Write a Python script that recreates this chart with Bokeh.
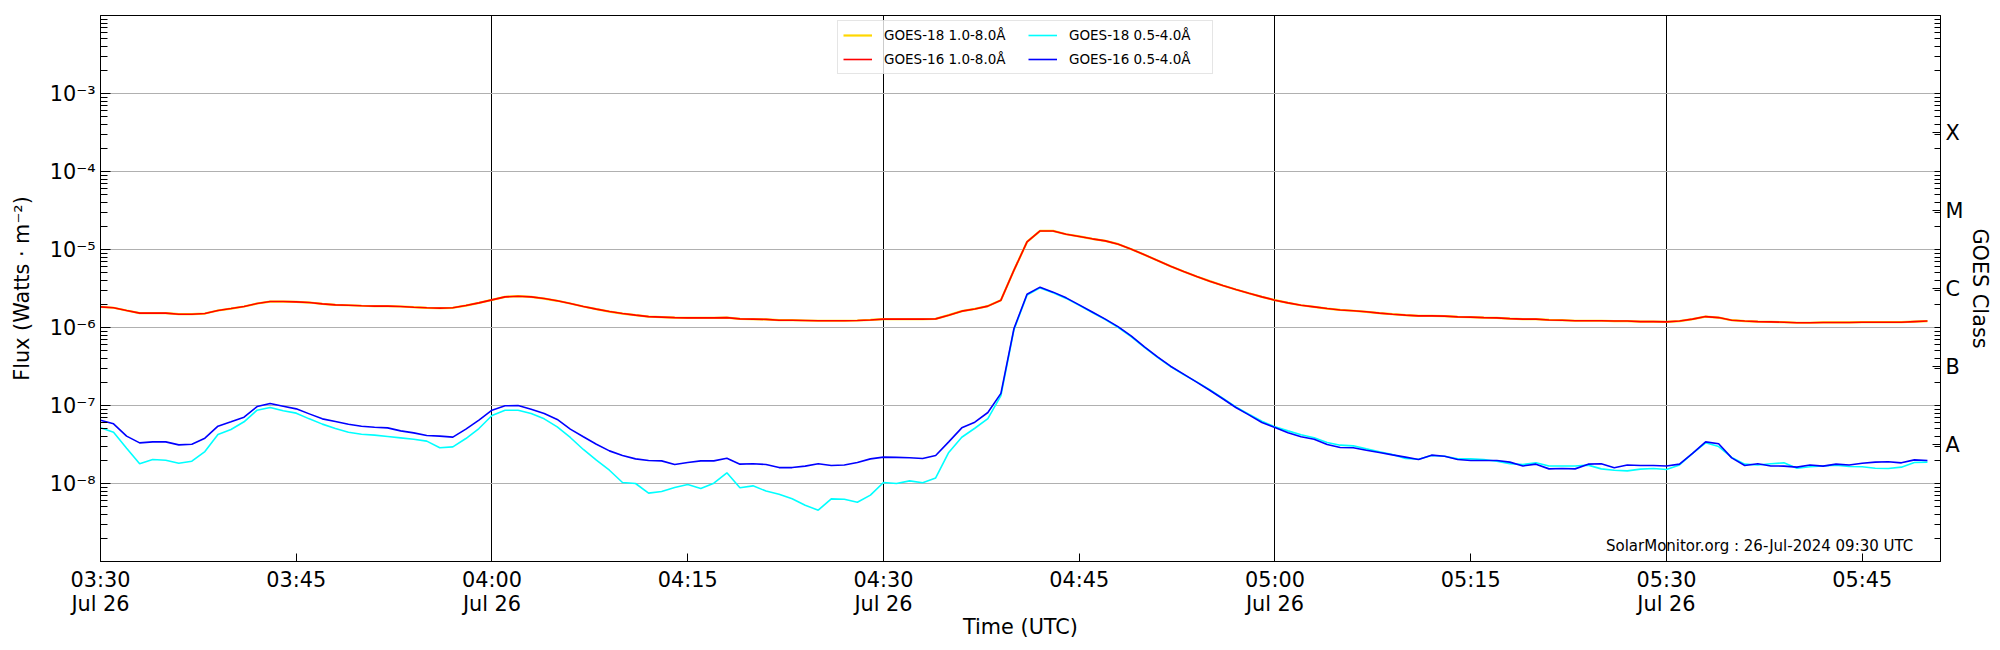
import pandas as pd
from bokeh.plotting import figure
from bokeh.models import Range1d, FixedTicker, LogAxis, Legend, LegendItem, Label
from bokeh.embed import file_html
from bokeh.resources import INLINE

FONT = "DejaVu Sans"

# ---------------- data (1-minute cadence) ----------------
times = pd.date_range("2024-07-26 03:30", periods=141, freq="1min")

goes16_long = [
    1.84e-6, 1.79e-6, 1.65e-6, 1.53e-6, 1.53e-6, 1.53e-6, 1.48e-6, 1.48e-6, 1.51e-6, 1.65e-6,
    1.75e-6, 1.86e-6, 2.03e-6, 2.15e-6, 2.15e-6, 2.13e-6, 2.09e-6, 2.01e-6, 1.95e-6, 1.93e-6,
    1.90e-6, 1.88e-6, 1.88e-6, 1.86e-6, 1.82e-6, 1.79e-6,
    1.77e-6, 1.79e-6, 1.91e-6, 2.07e-6, 2.26e-6, 2.47e-6, 2.52e-6, 2.47e-6, 2.35e-6, 2.20e-6,
    2.03e-6, 1.86e-6, 1.72e-6, 1.60e-6, 1.51e-6, 1.44e-6, 1.38e-6, 1.36e-6, 1.34e-6, 1.33e-6,
    1.33e-6, 1.33e-6, 1.34e-6, 1.29e-6, 1.28e-6, 1.27e-6,
    1.24e-6, 1.24e-6, 1.23e-6, 1.22e-6, 1.22e-6, 1.22e-6, 1.23e-6, 1.25e-6, 1.28e-6, 1.28e-6,
    1.28e-6, 1.28e-6, 1.29e-6, 1.44e-6, 1.62e-6, 1.73e-6, 1.88e-6, 2.24e-6, 5.43e-6, 1.25e-5,
    1.73e-5, 1.73e-5, 1.57e-5, 1.47e-5, 1.37e-5,
    1.29e-5, 1.17e-5, 1.01e-5, 8.54e-6, 7.23e-6, 6.11e-6, 5.22e-6, 4.51e-6, 3.93e-6, 3.45e-6,
    3.07e-6, 2.75e-6, 2.47e-6, 2.24e-6, 2.07e-6, 1.93e-6, 1.84e-6, 1.75e-6, 1.68e-6, 1.64e-6,
    1.59e-6, 1.53e-6, 1.48e-6, 1.44e-6, 1.41e-6,
    1.41e-6, 1.40e-6, 1.37e-6, 1.36e-6, 1.34e-6, 1.33e-6, 1.30e-6, 1.28e-6, 1.28e-6, 1.25e-6,
    1.24e-6, 1.22e-6, 1.22e-6, 1.22e-6, 1.21e-6, 1.21e-6, 1.19e-6, 1.19e-6, 1.18e-6, 1.21e-6,
    1.28e-6, 1.38e-6, 1.34e-6, 1.24e-6, 1.21e-6, 1.19e-6, 1.18e-6, 1.17e-6, 1.15e-6, 1.15e-6,
    1.16e-6, 1.16e-6, 1.16e-6, 1.17e-6, 1.17e-6, 1.17e-6, 1.17e-6, 1.19e-6, 1.21e-6,
]

# GOES-18 1.0-8.0 A lies hidden beneath the GOES-16 curve in the reference
goes18_long = list(goes16_long)

goes16_short = [
    6.49e-8, 5.82e-8, 4.05e-8, 3.32e-8, 3.42e-8, 3.42e-8, 3.13e-8, 3.19e-8, 3.81e-8, 5.43e-8,
    6.18e-8, 7.09e-8, 9.70e-8, 1.06e-7, 9.80e-8, 9.06e-8, 7.81e-8, 6.74e-8, 6.23e-8, 5.76e-8,
    5.43e-8, 5.27e-8, 5.17e-8, 4.73e-8, 4.46e-8, 4.12e-8,
    4.05e-8, 3.93e-8, 4.98e-8, 6.49e-8, 8.71e-8, 9.91e-8, 1.00e-7, 8.97e-8, 7.89e-8, 6.62e-8,
    4.98e-8, 3.97e-8, 3.19e-8, 2.62e-8, 2.29e-8, 2.07e-8, 1.97e-8, 1.95e-8, 1.75e-8, 1.86e-8,
    1.95e-8, 1.95e-8, 2.11e-8, 1.77e-8, 1.79e-8, 1.75e-8,
    1.60e-8, 1.60e-8, 1.67e-8, 1.79e-8, 1.70e-8, 1.73e-8, 1.86e-8, 2.07e-8, 2.18e-8, 2.16e-8,
    2.14e-8, 2.09e-8, 2.29e-8, 3.42e-8, 5.17e-8, 6.11e-8, 8.13e-8, 1.43e-7, 9.70e-7, 2.67e-6,
    3.29e-6, 2.84e-6, 2.40e-6, 1.95e-6, 1.58e-6,
    1.28e-6, 1.02e-6, 7.75e-7, 5.65e-7, 4.21e-7, 3.19e-7, 2.52e-7, 1.99e-7, 1.57e-7, 1.22e-7,
    9.42e-8, 7.59e-8, 6.05e-8, 5.22e-8, 4.46e-8, 3.97e-8, 3.70e-8, 3.16e-8, 2.90e-8, 2.87e-8,
    2.67e-8, 2.50e-8, 2.33e-8, 2.18e-8, 2.03e-8,
    2.31e-8, 2.24e-8, 2.03e-8, 1.97e-8, 1.97e-8, 1.97e-8, 1.88e-8, 1.68e-8, 1.77e-8, 1.54e-8,
    1.56e-8, 1.54e-8, 1.77e-8, 1.79e-8, 1.59e-8, 1.73e-8, 1.70e-8, 1.70e-8, 1.68e-8, 1.77e-8,
    2.43e-8, 3.42e-8, 3.23e-8, 2.13e-8, 1.70e-8, 1.79e-8, 1.68e-8, 1.67e-8, 1.62e-8, 1.73e-8,
    1.67e-8, 1.77e-8, 1.73e-8, 1.82e-8, 1.88e-8, 1.90e-8, 1.84e-8, 2.01e-8, 1.97e-8,
]

goes18_short = [
    5.18e-8, 4.55e-8, 2.84e-8, 1.79e-8, 2.03e-8, 1.99e-8, 1.82e-8, 1.93e-8, 2.57e-8, 4.25e-8,
    4.92e-8, 6.18e-8, 8.71e-8, 9.42e-8, 8.55e-8, 7.98e-8, 6.74e-8, 5.77e-8, 5.07e-8, 4.55e-8,
    4.28e-8, 4.17e-8, 4.01e-8, 3.85e-8, 3.70e-8, 3.49e-8,
    2.87e-8, 2.95e-8, 3.77e-8, 5.07e-8, 7.45e-8, 8.71e-8, 8.71e-8, 7.89e-8, 6.74e-8, 5.32e-8,
    3.89e-8, 2.73e-8, 1.99e-8, 1.48e-8, 1.03e-8, 1.00e-8, 7.52e-9, 7.89e-9, 8.88e-9, 9.71e-9,
    8.63e-9, 1.01e-8, 1.37e-8, 8.80e-9, 9.33e-9, 8.00e-9,
    7.30e-9, 6.36e-9, 5.27e-9, 4.55e-9, 6.36e-9, 6.29e-9, 5.76e-9, 7.09e-9, 1.03e-8, 1.00e-8,
    1.08e-8, 1.02e-8, 1.18e-8, 2.50e-8, 3.92e-8, 5.11e-8, 6.80e-8, 1.34e-7,
    9.40e-7, 2.60e-6, 3.22e-6, 2.79e-6, 2.36e-6, 1.92e-6, 1.56e-6, 1.26e-6, 1.00e-6, 7.60e-7,
    5.55e-7, 4.15e-7, 3.15e-7, 2.49e-7, 2.01e-7, 1.59e-7, 1.24e-7, 9.60e-8,
    7.74e-8, 6.30e-8, 5.32e-8, 4.73e-8, 4.21e-8, 3.85e-8, 3.36e-8, 3.10e-8, 3.04e-8, 2.78e-8,
    2.55e-8, 2.35e-8, 2.09e-8, 2.05e-8,
    2.29e-8, 2.24e-8, 2.07e-8, 2.07e-8, 2.03e-8, 1.93e-8, 1.80e-8, 1.75e-8, 1.84e-8, 1.68e-8,
    1.68e-8, 1.68e-8, 1.72e-8, 1.54e-8, 1.48e-8, 1.45e-8, 1.53e-8, 1.56e-8, 1.51e-8, 1.73e-8,
    2.43e-8, 3.32e-8, 2.98e-8, 2.16e-8, 1.77e-8, 1.73e-8, 1.79e-8, 1.84e-8, 1.57e-8, 1.64e-8,
    1.68e-8, 1.72e-8, 1.65e-8, 1.64e-8, 1.57e-8, 1.56e-8, 1.62e-8, 1.86e-8, 1.88e-8,
]

series_labels = ["GOES-18 1.0-8.0Å", "GOES-16 1.0-8.0Å", "GOES-18 0.5-4.0Å", "GOES-16 0.5-4.0Å"]
series_colors = ["gold", "red", "cyan", "blue"]
series_widths = [2.2, 1.6, 1.6, 1.6]

x_tick_times = pd.date_range("2024-07-26 03:30", "2024-07-26 05:45", freq="15min")
x_tick_labels = ["03:30\nJul 26", "03:45", "04:00\nJul 26", "04:15", "04:30\nJul 26",
                 "04:45", "05:00\nJul 26", "05:15", "05:30\nJul 26", "05:45"]
x_grid_times = pd.date_range("2024-07-26 04:00", "2024-07-26 05:30", freq="30min")

y_tick_values = [1e-8, 1e-7, 1e-6, 1e-5, 1e-4, 1e-3]
y_tick_labels = ["10⁻⁸", "10⁻⁷", "10⁻⁶", "10⁻⁵", "10⁻⁴", "10⁻³"]

class_positions = [10 ** -7.5, 10 ** -6.5, 10 ** -5.5, 10 ** -4.5, 10 ** -3.5]
class_labels = ["A", "B", "C", "M", "X"]

watermark = "SolarMonitor.org : 26-Jul-2024 09:30 UTC"
watermark_time = pd.Timestamp("2024-07-26 05:48:55")
watermark_flux = 1.6e-9

# ---------------- helpers ----------------
EPOCH = pd.Timestamp("1970-01-01")


def to_ms(t):
    return float((t - EPOCH) // pd.Timedelta("1ms"))


decades = [10.0 ** e for e in range(-9, -1)]
log_minor = [k * 10.0 ** e for e in range(-9, -2) for k in range(2, 10)]

# ---------------- figure ----------------
p = figure(
    frame_width=1840, frame_height=546,
    x_axis_type="datetime", y_axis_type="log",
    x_range=Range1d(to_ms(pd.Timestamp("2024-07-26 03:30")), to_ms(pd.Timestamp("2024-07-26 05:51"))),
    y_range=Range1d(1e-9, 1e-2),
    output_backend="svg", toolbar_location=None,
    min_border_left=100, min_border_right=60, min_border_top=15, min_border_bottom=89,
    background_fill_color="white", border_fill_color="white",
)
p.outline_line_color = "black"
p.outline_line_width = 1

renderers = []
for vals, col, w in zip([goes18_long, goes16_long, goes18_short, goes16_short], series_colors, series_widths):
    r = p.line(times, vals, line_color=col, line_width=w)
    renderers.append(r)

# grids
p.xgrid.ticker = FixedTicker(ticks=[to_ms(t) for t in x_grid_times])
p.xgrid.grid_line_color = "black"
p.xgrid.grid_line_width = 1
p.ygrid.ticker = FixedTicker(ticks=y_tick_values)
p.ygrid.grid_line_color = "#b0b0b0"
p.ygrid.grid_line_width = 1

# x axis
xa = p.xaxis[0]
xa.ticker = FixedTicker(ticks=[to_ms(t) for t in x_tick_times], minor_ticks=[])
xa.major_label_overrides = {to_ms(t): lab for t, lab in zip(x_tick_times, x_tick_labels)}
xa.axis_label = "Time (UTC)"

# left y axis
ya = p.yaxis[0]
ya.ticker = FixedTicker(ticks=y_tick_values, minor_ticks=log_minor + decades)
ya.major_label_overrides = {v: lab for v, lab in zip(y_tick_values, y_tick_labels)}
ya.axis_label = "Flux (Watts · m⁻²)"

# right GOES class axis
ra = LogAxis(
    ticker=FixedTicker(ticks=class_positions, minor_ticks=log_minor + decades),
    major_label_overrides={v: lab for v, lab in zip(class_positions, class_labels)},
    axis_label="GOES Class",
)
p.add_layout(ra, "right")

for ax in [xa, ya, ra]:
    ax.axis_line_color = "black"
    ax.major_tick_line_color = "black"
    ax.minor_tick_line_color = "black"
    ax.major_tick_out = 0
    ax.minor_tick_out = 0
    ax.major_label_text_font = FONT
    ax.major_label_text_font_size = "20.8px"
    ax.major_label_text_color = "black"
    ax.axis_label_text_font = FONT
    ax.axis_label_text_font_size = "20.8px"
    ax.axis_label_text_font_style = "normal"
    ax.axis_label_text_color = "black"

xa.major_tick_in = 8
xa.major_label_standoff = 6
xa.major_label_text_line_height = 1.0
xa.axis_label_standoff = -4
ya.major_tick_in = 10
ya.minor_tick_in = 7
ya.major_label_standoff = 5
ya.axis_label_standoff = 13
ra.major_tick_in = 8
ra.minor_tick_in = 6
ra.major_label_standoff = 5
ra.axis_label_standoff = 2

# legend
legend = Legend(
    items=[LegendItem(label=lab, renderers=[r]) for lab, r in zip(series_labels, renderers)],
    location=(737, 487), ncols=2,
    label_text_font=FONT, label_text_font_size="13.5px", label_text_color="black",
    glyph_width=29, glyph_height=18, label_height=18, label_width=138, label_standoff=12,
    spacing=6, padding=5, margin=0,
    border_line_color="#cccccc", border_line_width=1,
    background_fill_color="white", background_fill_alpha=0.8,
)
p.add_layout(legend)

# watermark
p.add_layout(Label(x=to_ms(watermark_time), y=watermark_flux, text=watermark,
                   text_align="right", text_baseline="middle",
                   text_font=FONT, text_font_size="15px", text_color="black"))

open("out.html", "w").write(file_html(p, INLINE))
